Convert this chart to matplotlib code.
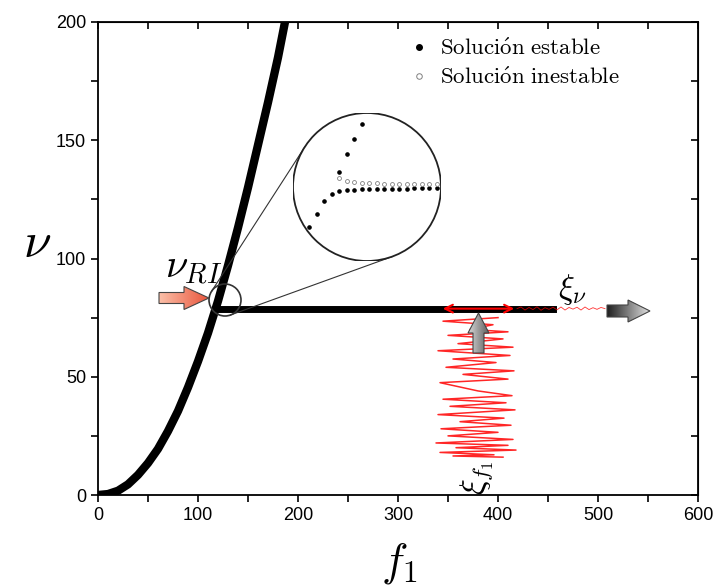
import numpy as np
import matplotlib.pyplot as plt
from matplotlib.patches import Circle, Polygon
from matplotlib.lines import Line2D
from matplotlib.colors import LinearSegmentedColormap

plt.rcParams['mathtext.fontset'] = 'cm'
plt.rcParams['font.family'] = ['Liberation Sans', 'DejaVu Sans']

# main stable branch
curve_f1 = [0, 10, 20, 30, 40, 50, 60, 70, 80, 90, 100, 110, 120, 130, 140, 150, 160, 170, 180, 187]
curve_nu = [0, 0.4, 1.8, 4.5, 8.5, 13.5, 19.5, 27, 35.5, 45.5, 56.5, 68.5, 82, 97, 113, 130, 148, 166, 185, 200]

# horizontal branch after the bifurcation
branch_f1 = [117, 455]
branch_nu = [78.8, 78.8]

# zoomed detail near the bifurcation
inset_low_f1 = [115, 115.5, 116, 116.5, 117]
inset_low_nu = [76.51, 77.42, 78.27, 78.73, 78.93]
inset_up_f1 = [117, 117.5, 118, 118.5]
inset_up_nu = [80.2, 81.38, 82.38, 83.4]
inset_flat_f1 = [117.5, 118, 118.5, 119, 119.5, 120, 120.5, 121, 121.5, 122, 122.5, 123, 123.5]
inset_flat_nu = [78.98, 79.02, 79.04, 79.04, 79.07, 79.07, 79.09, 79.09, 79.09, 79.11, 79.11, 79.11, 79.11]
inset_unst_f1 = [117, 117.5, 118, 118.5, 119, 119.5, 120, 120.5, 121, 121.5, 122, 122.5, 123, 123.5]
inset_unst_nu = [79.82, 79.58, 79.53, 79.49, 79.47, 79.44, 79.42, 79.42, 79.4, 79.4, 79.4, 79.38, 79.38, 79.38]

# noise in f1 (vertical band of red zigzags)
zz_f1 = [400, 345, 395, 372, 410, 350, 405, 360, 415, 340, 412, 355, 398, 348, 416, 365, 410, 342, 380,
         414, 345, 408, 352, 417, 340, 406, 362, 413, 343, 400, 350, 415, 338, 410, 358, 418, 342, 396, 355, 405]
zz_nu = [75, 73.5, 72, 70, 69, 67.5, 66, 64, 62.5, 61, 59, 57.5, 56, 54, 52.5, 51, 49, 47.5, 44,
         42, 40.5, 39, 37.5, 36, 34, 32.5, 31, 29.5, 28, 26.5, 25, 23.5, 22, 21, 20, 19, 18, 17, 16.5, 16]

# noise in nu (small jitter along the branch)
nz_f1 = [419, 423, 427, 431, 435, 439, 443, 447, 451, 455, 459, 463, 467, 471, 475, 479, 483, 487, 491, 495, 499, 503, 507]
nz_nu = [78.8, 79.5, 78.2, 79.3, 78.4, 79.6, 78.1, 79.2, 78.5, 79.4, 78.3, 79.5, 78.2, 79.3, 78.6, 79.4, 78.2, 79.5, 78.4, 79.2, 78.5, 79.3, 78.8]

fig = plt.figure(figsize=(7.18, 5.87), dpi=100)
ax = fig.add_axes([98/718, 92/587, 600/718, 473/587])

ax.plot(curve_f1, curve_nu, color='black', lw=6, solid_capstyle='round', zorder=3)
ax.plot(branch_f1, branch_nu, color='black', lw=5, zorder=3)
ax.plot(zz_f1, zz_nu, color='red', lw=1.1, alpha=0.85, zorder=2)
ax.plot(nz_f1, nz_nu, color='red', lw=0.6, alpha=0.8, zorder=4)
ax.annotate('', xy=(342, 78.8), xytext=(419, 78.8),
            arrowprops=dict(arrowstyle='<->', color='red', lw=1.5, mutation_scale=14), zorder=5)

ax.set_xlim(0, 600)
ax.set_ylim(0, 200)
ax.set_xticks(range(0, 601, 100))
ax.set_yticks(range(0, 201, 50))
ax.set_xticks(range(50, 600, 100), minor=True)
ax.set_yticks(range(25, 200, 50), minor=True)
ax.tick_params(which='both', direction='out', length=5, width=1.2, labelsize=13)
for s in ax.spines.values():
    s.set_linewidth(1.3)
sx = ax.secondary_xaxis('top')
sx.set_xticks(range(0, 601, 50))
sx.tick_params(direction='in', length=5, width=1.2, labeltop=False)
sy = ax.secondary_yaxis('right')
sy.set_yticks(range(0, 201, 25))
sy.tick_params(direction='in', length=5, width=1.2, labelright=False)

ax.set_xlabel(r'$f_1$', fontsize=32, va='center')
ax.xaxis.set_label_coords(0.503, -0.145)
ax.set_ylabel(r'$\nu$', fontsize=36, rotation=0, va='center')
ax.yaxis.set_label_coords(-0.102, 0.53)

ax.text(96, 96, r'$\nu_{RI}$', fontsize=29, ha='center', va='center')
ax.text(474, 87, r'$\xi_{\nu}$', fontsize=24, ha='center', va='center')
ax.text(379, 7.5, r'$\xi_{f_1}$', fontsize=24, ha='center', va='center', rotation=90)

h1 = Line2D([], [], ls='none', marker='o', ms=4, color='black')
h2 = Line2D([], [], ls='none', marker='o', ms=4, mfc='white', mec='gray', mew=0.7)
ax.legend([h1, h2], [r'$\mathrm{Soluci\acute{o}n\ estable}$', r'$\mathrm{Soluci\acute{o}n\ inestable}$'],
          loc='upper left', bbox_to_anchor=(0.478, 1.012), frameon=False, fontsize=16.5,
          handletextpad=0.3, handlelength=1.2, labelspacing=0.25)

# inset (circular magnifier)
ins = fig.add_axes([(367-74)/718, (587-187-74)/587, 148/718, 148/587])
ins.set_xlim(118.84 - 4.93, 118.84 + 4.93)
ins.set_ylim(79.2 - 4.93, 79.2 + 4.93)
ins.axis('off')
clip = Circle((0.5, 0.5), 0.5, transform=ins.transAxes, facecolor='white', edgecolor='none')
ins.add_patch(clip)
for fx, fy in [(inset_low_f1, inset_low_nu), (inset_up_f1, inset_up_nu), (inset_flat_f1, inset_flat_nu)]:
    ins.plot(fx, fy, ls='none', marker='o', ms=2.3, color='black', clip_path=clip)
ins.plot(inset_unst_f1, inset_unst_nu, ls='none', marker='o', ms=2.8, mfc='white', mec='gray', mew=0.6,
         clip_path=clip)
ins.add_patch(Circle((0.5, 0.5), 0.5, transform=ins.transAxes, fill=False, edgecolor='#222222', lw=1.3))

# overlay in pixel coordinates for decorations
ov = fig.add_axes([0, 0, 1, 1])
ov.patch.set_alpha(0)
ov.axis('off')
ax.set_zorder(1)
ax.patch.set_alpha(0)
ov.set_zorder(2)
ins.set_zorder(3)


def P(x, y):
    return (x, 587 - y)


c1 = np.array(P(367, 187), dtype=float)
r1 = 74
c2 = np.array(P(225, 300), dtype=float)
r2 = 16
d = c1 - c2
D = np.hypot(*d)
u = d / D
perp = np.array([-u[1], u[0]])
ca = (r1 - r2) / D
sa = np.sqrt(1 - ca**2)
for sgn in (1, -1):
    n = u * ca + sgn * perp * sa
    p1 = c1 - r1 * n
    p2 = c2 - r2 * n
    ov.plot([p2[0], p1[0]], [p2[1], p1[1]], color='#333333', lw=0.8)
ov.add_patch(Circle(c2, r2, fill=False, edgecolor='#333333', lw=1.2))


def grad_arrow(pts, cols, horizontal=True):
    poly = Polygon(pts, closed=True, facecolor='none', edgecolor='#444444', lw=0.8, zorder=2)
    ov.add_patch(poly)
    xs = [p[0] for p in pts]
    ys = [p[1] for p in pts]
    cm = LinearSegmentedColormap.from_list('g', cols)
    g = np.linspace(0, 1, 64)
    img = g[None, :] if horizontal else g[:, None]
    im = ov.imshow(img, cmap=cm, extent=[min(xs), max(xs), min(ys), max(ys)], origin='lower',
                   aspect='auto', zorder=1)
    im.set_clip_path(poly)


def right_arrow(tail, tip, yc, bh, hb, hh, cols):
    pts = [P(tail, yc - bh/2), P(hb, yc - bh/2), P(hb, yc - hh/2), P(tip, yc),
           P(hb, yc + hh/2), P(hb, yc + bh/2), P(tail, yc + bh/2)]
    grad_arrow(pts, cols)


right_arrow(159, 209, 298, 11, 184, 23, ['#fbbfa8', '#e8553c'])
right_arrow(607, 650, 311, 12, 628, 22, ['#202020', '#e0e0e0'])

up_pts = [P(473, 353), P(473, 333), P(468, 333), P(478.5, 313), P(489, 333), P(484, 333), P(484, 353)]
grad_arrow(up_pts, ['#d8d8d8', '#606060'])

ov.set_xlim(0, 718)
ov.set_ylim(0, 587)

fig.savefig('out.png', dpi=100)
